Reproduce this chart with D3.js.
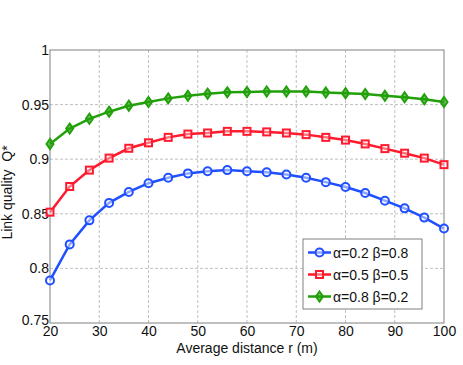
<!DOCTYPE html>
<html>
<head>
<meta charset="utf-8">
<script src="https://cdn.jsdelivr.net/npm/d3@7"></script>
<style>
  body { margin: 0; background: #fff; }
  svg { font-family: "Liberation Sans", Arial, sans-serif; }
  .grid line { stroke: #b0b0b0; stroke-dasharray: 3,2; stroke-width: 0.8; }
</style>
</head>
<body>
<svg width="463" height="365"></svg>
<script>
// x values (average distance r)
var distances = [20, 24, 28, 32, 36, 40, 44, 48, 52, 56, 60, 64, 68, 72, 76, 80, 84, 88, 92, 96, 100];

var seriesNames = ["\u03b1=0.2 \u03b2=0.8", "\u03b1=0.5 \u03b2=0.5", "\u03b1=0.8 \u03b2=0.2"];

var qA = [0.789, 0.822, 0.844, 0.860, 0.870, 0.878, 0.883, 0.887, 0.889, 0.890, 0.889, 0.888, 0.886, 0.883, 0.879, 0.8745, 0.869, 0.862, 0.855, 0.8465, 0.8365];
var qB = [0.8515, 0.875, 0.890, 0.901, 0.910, 0.915, 0.920, 0.923, 0.924, 0.9255, 0.9255, 0.925, 0.924, 0.9225, 0.920, 0.9175, 0.914, 0.9097, 0.9055, 0.901, 0.895];
var qC = [0.914, 0.928, 0.937, 0.9435, 0.949, 0.9524, 0.9557, 0.958, 0.960, 0.9612, 0.9615, 0.962, 0.962, 0.962, 0.961, 0.9605, 0.9597, 0.958, 0.9567, 0.9548, 0.9524];

var xTicks = [20, 30, 40, 50, 60, 70, 80, 90, 100];
var yTicks = [0.75, 0.8, 0.85, 0.9, 0.95, 1];

var margin = {top: 50, right: 19, bottom: 42, left: 50},
  width = 463 - margin.left - margin.right,
  height = 365 - margin.top - margin.bottom;

var svg = d3.select("svg")
  .append("g")
  .attr("transform", "translate(" + margin.left + "," + margin.top + ")");

var x = d3.scaleLinear().domain([20, 100]).range([0, width]);
var y = d3.scaleLinear().domain([0.75, 1]).range([height, 0]);

// grid
svg.append("g")
  .attr("class", "grid")
  .selectAll("line.v")
  .data(xTicks.slice(1, -1))
  .enter().append("line")
  .attr("x1", function(d) { return x(d); })
  .attr("x2", function(d) { return x(d); })
  .attr("y1", 0)
  .attr("y2", height);

svg.append("g")
  .attr("class", "grid")
  .selectAll("line.h")
  .data(yTicks.slice(1, -1))
  .enter().append("line")
  .attr("x1", 0)
  .attr("x2", width)
  .attr("y1", function(d) { return y(d); })
  .attr("y2", function(d) { return y(d); });

// axes
var xAxis = d3.axisBottom(x).tickValues(xTicks).tickSize(0).tickPadding(3).tickFormat(d3.format("d"));
var yAxis = d3.axisLeft(y).tickValues(yTicks).tickSize(0).tickPadding(1).tickFormat(function(d) { return d3.format("")(+d.toFixed(2)); });

var gx = svg.append("g")
  .attr("transform", "translate(0," + height + ")")
  .call(xAxis);
gx.select(".domain").remove();
gx.selectAll("text").style("font-size", "14px").attr("fill", "#111");

var gy = svg.append("g").call(yAxis);
gy.select(".domain").remove();
gy.selectAll("text").style("font-size", "14px").attr("fill", "#111");
// nudge the bottom label so it does not run into "20"
gy.selectAll("text").filter(function(d) { return d === 0.75; }).attr("dy", "0.1em");

// box
svg.append("rect")
  .attr("width", width)
  .attr("height", height)
  .attr("fill", "none")
  .attr("stroke", "#808080")
  .attr("stroke-width", 1);

// axis titles
svg.append("text")
  .attr("x", width / 2)
  .attr("y", height + 30)
  .attr("text-anchor", "middle")
  .style("font-size", "14px")
  .attr("fill", "#111")
  .text("Average distance r (m)");

svg.append("text")
  .attr("transform", "rotate(-90)")
  .attr("x", -height / 2 - 6)
  .attr("y", -38)
  .attr("text-anchor", "middle")
  .style("font-size", "14px")
  .attr("fill", "#111")
  .attr("xml:space", "preserve")
  .text("Link quality  Q*");

var series = [
  {name: seriesNames[0], values: qA, color: "#1f4fff", shape: "circle"},
  {name: seriesNames[1], values: qB, color: "#ff1a2e", shape: "square"},
  {name: seriesNames[2], values: qC, color: "#22a00a", shape: "diamond"}
];

var line = d3.line()
  .x(function(d, i) { return x(distances[i]); })
  .y(function(d) { return y(d); });

function drawMarker(g, shape, color) {
  if (shape === "circle") {
    g.append("circle").attr("r", 4).attr("fill", "#fff").attr("fill-opacity", 0.5)
      .attr("stroke", color).attr("stroke-width", 2);
  } else if (shape === "square") {
    g.append("rect").attr("x", -3.5).attr("y", -3.5).attr("width", 7).attr("height", 7)
      .attr("fill", "#fff").attr("fill-opacity", 0.4).attr("stroke", color).attr("stroke-width", 2);
  } else {
    g.append("path").attr("d", "M0,-5L3.5,0L0,5L-3.5,0Z")
      .attr("fill", color).attr("fill-opacity", 0.6).attr("stroke", color).attr("stroke-width", 2);
  }
}

series.forEach(function(s) {
  svg.append("path")
    .datum(s.values)
    .attr("fill", "none")
    .attr("stroke", s.color)
    .attr("stroke-width", 2.5)
    .attr("d", line);

  svg.selectAll(null)
    .data(s.values)
    .enter().append("g")
    .attr("transform", function(d, i) { return "translate(" + x(distances[i]) + "," + y(d) + ")"; })
    .each(function() { drawMarker(d3.select(this), s.shape, s.color); });
});

// legend
var legend = svg.append("g")
  .attr("transform", "translate(" + (303 - margin.left) + "," + (239 - margin.top) + ")");

legend.append("rect")
  .attr("width", 119)
  .attr("height", 70)
  .attr("fill", "#fff")
  .attr("stroke", "#808080")
  .attr("stroke-width", 1);

series.forEach(function(s, i) {
  var row = legend.append("g").attr("transform", "translate(0," + (13.5 + i * 22) + ")");
  row.append("line")
    .attr("x1", 5).attr("x2", 28)
    .attr("stroke", s.color).attr("stroke-width", 2.5);
  var m = row.append("g").attr("transform", "translate(16.5,0)");
  drawMarker(m, s.shape, s.color);
  row.append("text")
    .attr("x", 30)
    .attr("y", 5)
    .style("font-size", "14px")
    .attr("fill", "#111")
    .text(s.name);
});
</script>
</body>
</html>
